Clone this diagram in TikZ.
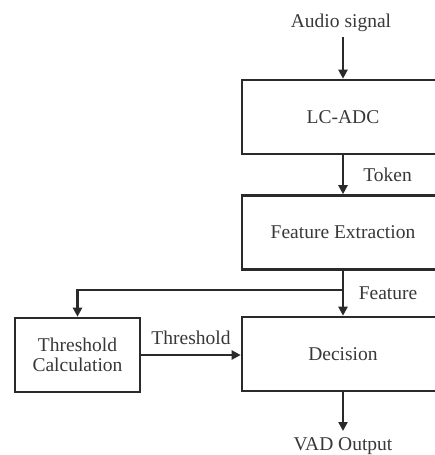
\documentclass[tikz,border=0pt]{standalone}
\usepackage{fontspec}
\setmainfont{Liberation Serif}
\usetikzlibrary{arrows.meta}
\definecolor{ink}{HTML}{2A2A2A}
\definecolor{txt}{HTML}{383838}
\begin{document}
\begin{tikzpicture}[x=1pt,y=-1pt,
  blk/.style={draw=ink,line width=2.6pt,minimum width=202pt,minimum height=74pt,inner sep=0pt,text=txt,font=\fontsize{19.5}{21}\selectfont},
  lbl/.style={text=txt,font=\fontsize{19.5}{21}\selectfont,inner sep=0pt},
  conn/.style={draw=ink,line width=2.6pt,-{Triangle[length=9pt,width=9pt]}}]
\useasboundingbox (0,0) rectangle (435,455);
\clip (0,0) rectangle (435,455);
\node[blk] (adc) at (343,117) {LC-ADC};
\node[blk] (fe) at (343,232.5) {Feature Extraction};
\node[blk] (dec) at (343,354) {Decision};
\node[blk,minimum width=125pt,align=center] (thr) at (77.5,355) {Threshold\\[-1pt]Calculation};
\node[lbl,anchor=south,inner sep=0pt] (audio) at (341,32) {Audio signal};
\node[lbl,anchor=north,inner ysep=6pt] (vad) at (343,431) {VAD Output};
\coordinate (ain) at (343,37);
\draw[conn] (ain) -- (adc.north);
\draw[conn] (adc.south) -- (fe.north) node[lbl,midway,right=19pt] {Token};
\draw[conn] (fe.south) -- (dec.north);
\node[lbl] (featl) at (388,293) {Feature};
\coordinate (br) at (343,290);
\draw[conn] (br) -| (thr.north);
\draw[conn] (thr.east) -- (thr.east -| dec.west) node[lbl,midway,above=9pt] {Threshold};
\draw[conn] (dec.south) -- (vad.north);
\end{tikzpicture}
\end{document}
